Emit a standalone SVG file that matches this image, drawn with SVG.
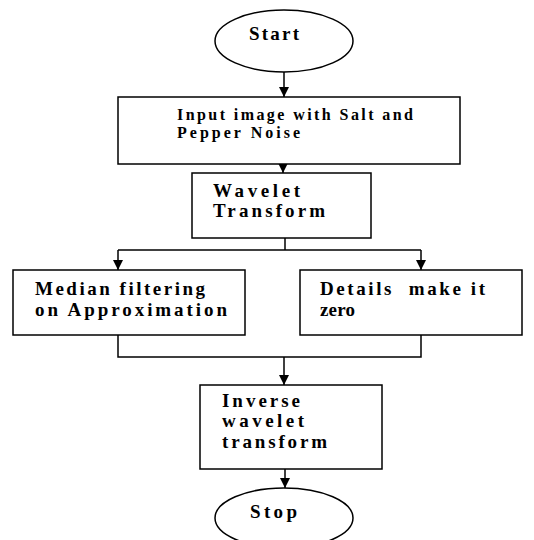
<svg xmlns="http://www.w3.org/2000/svg" width="534" height="540" viewBox="0 0 534 540">
<defs>
<marker id="ah" viewBox="0 0 10 10" refX="10" refY="5" markerWidth="10" markerHeight="10" markerUnits="userSpaceOnUse" orient="auto">
<path d="M0,0 L10,5 L0,10 Z" fill="#000"/>
</marker>
</defs>
<style>
.n{fill:#fff;stroke:#000;stroke-width:1.5}
.c{fill:none;stroke:#000;stroke-width:1.5}
text{font-family:"Liberation Serif",serif;font-size:19px;font-weight:bold;fill:#000}
text.s{font-size:16px}
</style>
<rect width="534" height="540" fill="#fff"/>
<g id="connectors">
<line class="c" x1="284" y1="72" x2="284" y2="97" marker-end="url(#ah)"/>
<line class="c" x1="283" y1="164" x2="283" y2="173" marker-end="url(#ah)"/>
<polyline class="c" points="285,238 285,250"/>
<polyline class="c" points="118,250 421,250"/>
<line class="c" x1="118" y1="250" x2="118" y2="270" marker-end="url(#ah)"/>
<line class="c" x1="421" y1="250" x2="421" y2="270" marker-end="url(#ah)"/>
<polyline class="c" points="118,335 118,357 421,357 421,335"/>
<line class="c" x1="284" y1="357" x2="284" y2="385" marker-end="url(#ah)"/>
<line class="c" x1="285" y1="469" x2="285" y2="488" marker-end="url(#ah)"/>
</g>
<g id="start">
<ellipse class="n" cx="284" cy="41" rx="69" ry="31"/>
<text x="249" y="40" textLength="50">Start</text>
</g>
<g id="input">
<rect class="n" x="118" y="97" width="342" height="67"/>
<text class="s" x="177" y="120" textLength="236">Input image with Salt and</text>
<text class="s" x="177" y="138" textLength="123">Pepper Noise</text>
</g>
<g id="wavelet">
<rect class="n" x="192" y="173" width="179" height="65"/>
<text x="213" y="197" textLength="87">Wavelet</text>
<text x="213" y="217" textLength="112">Transform</text>
</g>
<g id="median">
<rect class="n" x="13" y="270" width="232" height="65"/>
<text x="35" y="295" textLength="170">Median filtering</text>
<text x="35" y="316" textLength="192">on Approximation</text>
</g>
<g id="details">
<rect class="n" x="300" y="270" width="222" height="65"/>
<text x="320" y="295" textLength="165" xml:space="preserve">Details  make it</text>
<text x="320" y="316" textLength="35">zero</text>
</g>
<g id="inverse">
<rect class="n" x="200" y="385" width="182" height="84"/>
<text x="222" y="407" textLength="78">Inverse</text>
<text x="222" y="427" textLength="82">wavelet</text>
<text x="222" y="448" textLength="105">transform</text>
</g>
<g id="stop">
<ellipse class="n" cx="284" cy="518" rx="69" ry="30"/>
<text x="250" y="518" textLength="47">Stop</text>
</g>
</svg>
